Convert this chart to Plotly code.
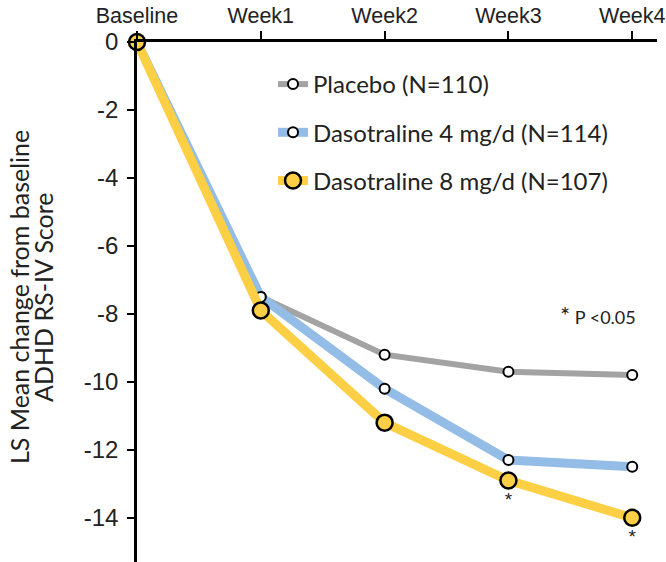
import plotly.graph_objects as go

timepoints = ["Baseline", "Week1", "Week2", "Week3", "Week4"]
x_pos = [0, 1, 2, 3, 4]
placebo = [0, -7.5, -9.2, -9.7, -9.8]
daso4 = [0, -7.5, -10.2, -12.3, -12.5]
daso8 = [0, -7.9, -11.2, -12.9, -14.0]
sig_marks = ["", "", "", "*", "*"]
series_names = ["Placebo (N=110)", "Dasotraline 4 mg/d (N=114)", "Dasotraline 8 mg/d (N=107)"]
y_ticks = [0, -2, -4, -6, -8, -10, -12, -14]
y_tick_labels = ["0", "-2", "-4", "-6", "-8", "-10", "-12", "-14"]

GRAY = "#a3a3a3"
BLUE = "#93bde6"
YELLOW = "#fdcf45"

fig = go.Figure()
fig.add_trace(go.Scatter(
    x=x_pos, y=placebo, name=series_names[0], mode="lines+markers",
    line=dict(color=GRAY, width=6),
    marker=dict(size=10, color="white", line=dict(color="black", width=2)),
    cliponaxis=False, legendgroup="a"))
fig.add_trace(go.Scatter(
    x=x_pos, y=daso4, name=series_names[1], mode="lines+markers",
    line=dict(color=BLUE, width=9),
    marker=dict(size=10, color="white", line=dict(color="black", width=2)),
    cliponaxis=False, legendgroup="b"))
fig.add_trace(go.Scatter(
    x=x_pos, y=daso8, name=series_names[2], mode="lines+markers",
    line=dict(color=YELLOW, width=9),
    marker=dict(size=16, color=YELLOW, line=dict(color="black", width=2.5)),
    cliponaxis=False, legendgroup="c"))
fig.add_trace(go.Scatter(
    x=x_pos, y=daso8, mode="markers+text", text=sig_marks, textposition="bottom center",
    marker=dict(size=16, color="rgba(0,0,0,0)"),
    textfont=dict(family="Liberation Sans", size=19, color="#222"),
    showlegend=False, cliponaxis=False, hoverinfo="skip"))

L, R, T, B = 137, 9, 42, 0
W, H = 666, 562
pw = W - L - R
ph = H - T - B

def px_x(p):
    return (p - L) / pw

def px_y(p):
    return 1 - (p - T) / ph

fig.update_layout(
    width=W, height=H,
    margin=dict(l=L, r=R, t=T, b=B, pad=0),
    paper_bgcolor="white", plot_bgcolor="white",
    showlegend=True,
    legend=dict(
        x=px_x(273), y=px_y(62), xanchor="left", yanchor="top",
        font=dict(family="Lato", size=24, color="#222"),
        bgcolor="rgba(0,0,0,0)", tracegroupgap=14, traceorder="grouped",
        itemwidth=30, itemsizing="trace"),
    xaxis=dict(
        range=[0, 4.2], side="top", tickvals=x_pos, ticktext=timepoints,
        showline=True, linecolor="black", linewidth=2.5,
        ticks="outside", ticklen=8, tickwidth=2, tickcolor="black",
        showgrid=False, zeroline=False, ticklabeloverflow="allow",
        tickfont=dict(family="Liberation Sans", size=21.5, color="#222")),
    yaxis=dict(
        range=[-15.3, 0], tickvals=y_ticks, ticktext=y_tick_labels,
        showline=True, linecolor="black", linewidth=2.5,
        ticks="outside", ticklen=7, tickwidth=2, tickcolor="black",
        showgrid=False, zeroline=False, ticklabelstandoff=4,
        tickfont=dict(family="Liberation Sans", size=24, color="#222")),
    annotations=[
        dict(text="LS Mean change from baseline", xref="paper", yref="paper",
             x=px_x(19), y=px_y(297), textangle=-90, showarrow=False,
             xanchor="center", yanchor="middle",
             font=dict(family="Lato", size=25, color="#222")),
        dict(text="ADHD RS-IV Score", xref="paper", yref="paper",
             x=px_x(43), y=px_y(297), textangle=-90, showarrow=False,
             xanchor="center", yanchor="middle",
             font=dict(family="Lato", size=25, color="#222")),
        dict(text="<span style='font-size:24px'>*</span> P <0.05", xref="paper", yref="paper",
             x=px_x(558), y=px_y(314), showarrow=False,
             xanchor="left", yanchor="middle",
             font=dict(family="Lato", size=18, color="#222")),
    ],
)

fig.write_html("out.html",
               config={"displayModeBar": False},
               post_script="document.body.style.margin='0';document.body.style.overflow='hidden';")
